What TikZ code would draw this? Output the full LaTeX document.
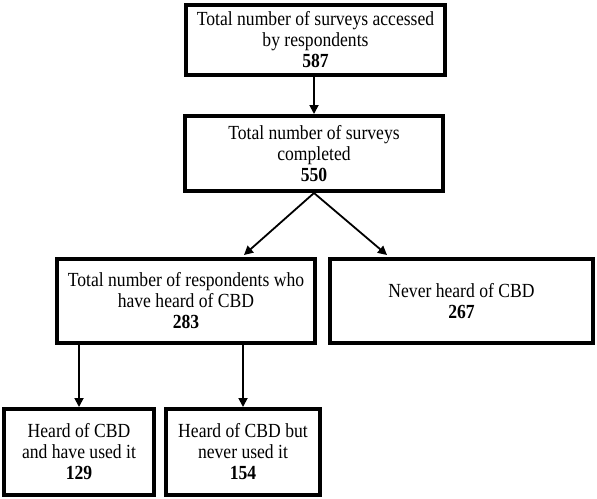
\documentclass[tikz,border=0pt]{standalone}
\usepackage{fontspec}
\setmainfont{Liberation Serif}[FakeStretch=0.88]
\usetikzlibrary{arrows.meta}
\tikzset{
  boxnode/.style={draw=black, line width=4pt, rectangle, inner sep=0pt, align=center,
    font=\fontsize{20pt}{21pt}\selectfont},
  arr/.style={line width=1.8pt, -{Triangle[width=9pt,length=9pt]}}
}
\begin{document}
\begin{tikzpicture}[x=1pt,y=1pt]
\useasboundingbox (0,0) rectangle (597,-498);
\node[boxnode, minimum width=259pt, minimum height=70pt] (b1) at (315.5,-40)
  {Total number of surveys accessed\\by respondents\\\textbf{587}};
\node[boxnode, minimum width=258pt, minimum height=75pt] (b2) at (314,-153.5)
  {Total number of surveys\\completed\\\textbf{550}};
\node[boxnode, minimum width=258pt, minimum height=84pt] (b3) at (186,-301)
  {Total number of respondents who\\have heard of CBD\\\textbf{283}};
\node[boxnode, minimum width=263pt, minimum height=84pt] (b4) at (461.5,-301)
  {Never heard of CBD\\\textbf{267}};
\node[boxnode, minimum width=150pt, minimum height=86pt] (b5) at (79,-452)
  {Heard of CBD\\and have used it\\\textbf{129}};
\node[boxnode, minimum width=154pt, minimum height=86pt] (b6) at (243,-452)
  {Heard of CBD but\\never used it\\\textbf{154}};
\draw[arr] (b2.north |- b1.south) -- (b2.north);
\draw[arr] (b2.south) -- ([xshift=58pt,yshift=2pt]b3.north);
\draw[arr] (b2.south) -- ([xshift=-74.5pt,yshift=2pt]b4.north);
\draw[arr] (b5.north |- b3.south) -- (b5.north);
\draw[arr] (b6.north |- b3.south) -- (b6.north);
\end{tikzpicture}
\end{document}
